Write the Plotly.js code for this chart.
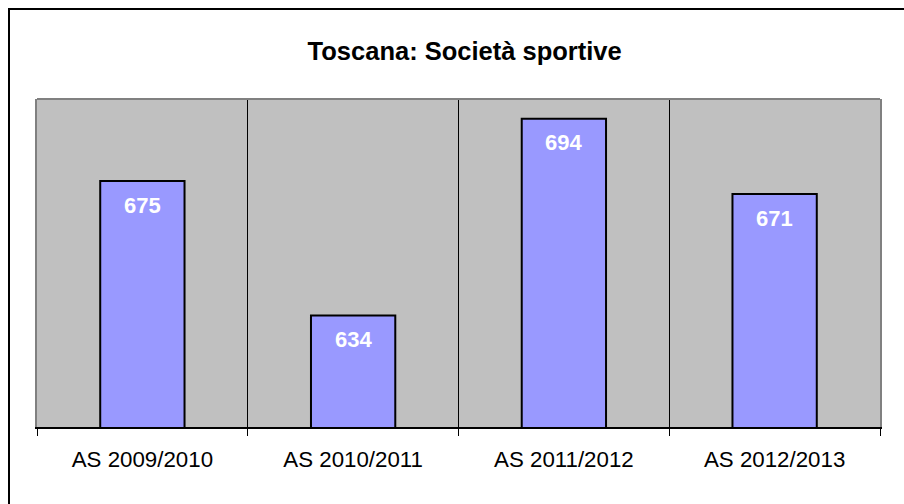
<!DOCTYPE html>
<html>
<head>
<meta charset="utf-8">
<script src="https://cdn.plot.ly/plotly-3.0.1.min.js"></script>
<style>
html,body{margin:0;padding:0;background:#fff;}
#wrap{position:relative;width:904px;height:504px;overflow:hidden;}
#chart{width:904px;height:504px;}
#frame{position:absolute;left:8px;top:8px;width:1000px;height:1000px;border-left:2px solid #000;border-top:2px solid #000;pointer-events:none;}
</style>
</head>
<body>
<div id="wrap"><div id="chart"></div><div id="frame"></div></div>
<script>
const categories = ["AS 2009/2010", "AS 2010/2011", "AS 2011/2012", "AS 2012/2013"];
const societa = [675, 634, 694, 671];
const titleText = "Toscana: Società sportive";

const FONT = '"Liberation Sans", Arial, sans-serif';

const trace = {
  type: 'bar',
  x: categories,
  y: societa,
  width: 0.4,
  marker: {color: '#9999FF', line: {color: '#000000', width: 2}},
  hoverinfo: 'x+y'
};

const annotations = categories.map((c, i) => ({
  x: c, y: societa[i], xref: 'x', yref: 'y',
  text: '<b>' + societa[i] + '</b>',
  showarrow: false, yanchor: 'middle', yshift: -24,
  font: {family: FONT, size: 22, color: '#FFFFFF'}
}));

const layout = {
  width: 904, height: 504,
  margin: {l: 37, r: 24, t: 99, b: 77},
  paper_bgcolor: '#FFFFFF',
  plot_bgcolor: '#C0C0C0',
  showlegend: false,
  title: {
    text: '<b>' + titleText + '</b>',
    font: {family: FONT, size: 25.5, color: '#000'},
    x: 0.514, xref: 'container', xanchor: 'center',
    y: 0.898, yref: 'container', yanchor: 'middle'
  },
  xaxis: {
    type: 'category',
    showline: true, linecolor: '#000', linewidth: 1.5,
    ticks: 'outside', ticklen: 7, tickcolor: '#000', tickwidth: 1,
    tickson: 'boundaries',
    ticklabelstandoff: 12,
    showgrid: true, gridcolor: '#000', gridwidth: 1,
    tickfont: {family: FONT, size: 22.3, color: '#000'},
    fixedrange: true
  },
  yaxis: {
    range: [600, 700],
    showgrid: false, zeroline: false, showticklabels: false, ticks: '',
    showline: true, linecolor: '#808080', linewidth: 2, mirror: true,
    fixedrange: true
  },
  shapes: [{
    type: 'line', xref: 'paper', yref: 'paper', x0: 0, x1: 1, y0: 1, y1: 1,
    line: {color: '#808080', width: 2}
  }],
  annotations: annotations
};

Plotly.newPlot('chart', [trace], layout, {displayModeBar: false, staticPlot: true});
</script>
</body>
</html>
